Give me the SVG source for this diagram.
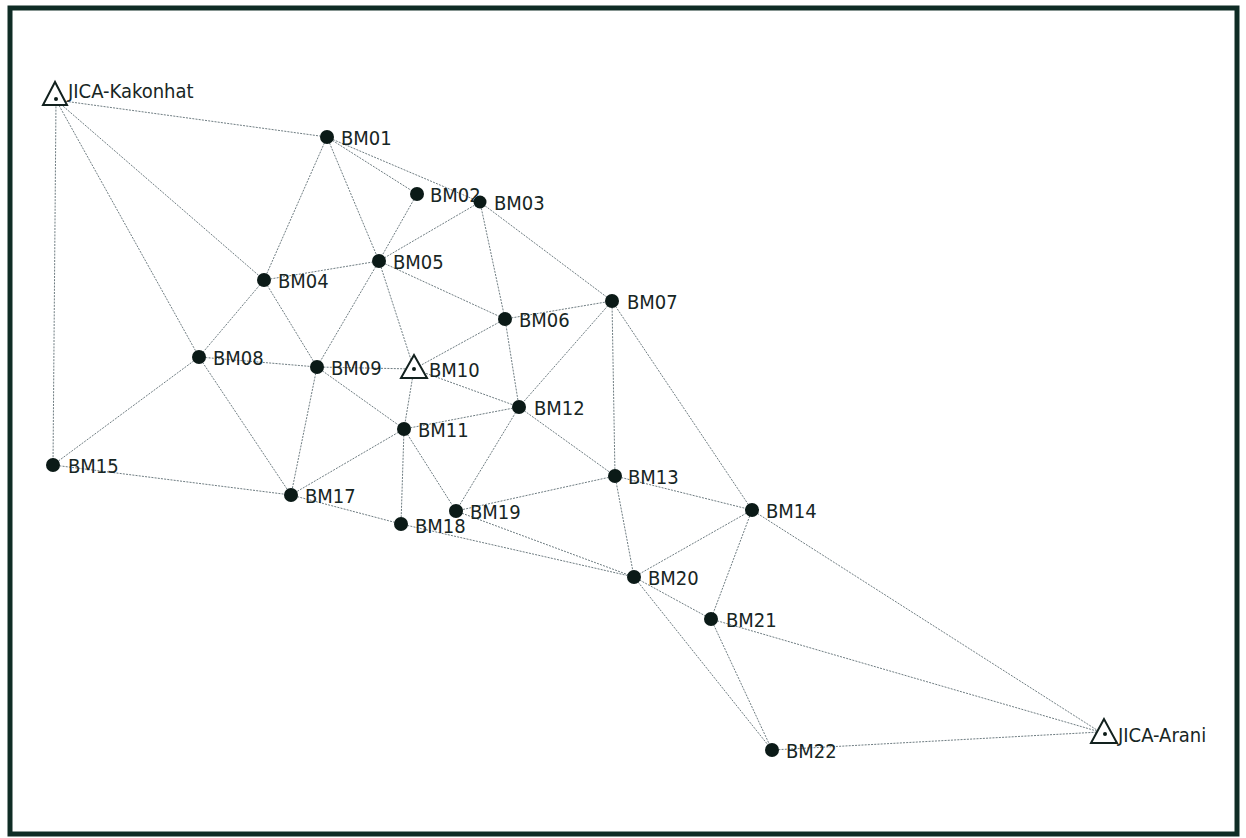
<svg xmlns="http://www.w3.org/2000/svg" width="1246" height="838" viewBox="0 0 1246 838">
  <style>
    .edge { stroke: #6f7d82; stroke-width: 1; stroke-dasharray: 2 1.2; fill: none; }
    .pt { fill: #0b1a17; }
    .ctl { fill: #ffffff; stroke: #12211e; stroke-width: 2; stroke-linejoin: miter; }
    .lbl { font-family: "DejaVu Sans Condensed", "DejaVu Sans", "Liberation Sans", sans-serif; font-stretch: condensed; font-size: 20px; fill: #172624; }
  </style>
  <rect x="0" y="0" width="1246" height="838" fill="#ffffff"/>
  <rect x="10" y="8" width="1227" height="826" fill="none" stroke="#0f2c25" stroke-width="5"/>

  <!-- survey observation lines -->
  <g id="connectors">
    <line class="edge" x1="56" y1="100" x2="327" y2="137"/>
    <line class="edge" x1="56" y1="100" x2="53" y2="465"/>
    <line class="edge" x1="56" y1="100" x2="199" y2="357"/>
    <line class="edge" x1="56" y1="100" x2="264" y2="280"/>
    <line class="edge" x1="327" y1="137" x2="417" y2="194"/>
    <line class="edge" x1="327" y1="137" x2="480" y2="202"/>
    <line class="edge" x1="327" y1="137" x2="264" y2="280"/>
    <line class="edge" x1="327" y1="137" x2="379" y2="261"/>
    <line class="edge" x1="417" y1="194" x2="379" y2="261"/>
    <line class="edge" x1="480" y1="202" x2="379" y2="261"/>
    <line class="edge" x1="480" y1="202" x2="505" y2="319"/>
    <line class="edge" x1="480" y1="202" x2="612" y2="301"/>
    <line class="edge" x1="264" y1="280" x2="379" y2="261"/>
    <line class="edge" x1="264" y1="280" x2="199" y2="357"/>
    <line class="edge" x1="264" y1="280" x2="317" y2="367"/>
    <line class="edge" x1="379" y1="261" x2="505" y2="319"/>
    <line class="edge" x1="379" y1="261" x2="317" y2="367"/>
    <line class="edge" x1="379" y1="261" x2="414" y2="369"/>
    <line class="edge" x1="505" y1="319" x2="612" y2="301"/>
    <line class="edge" x1="505" y1="319" x2="414" y2="369"/>
    <line class="edge" x1="505" y1="319" x2="519" y2="407"/>
    <line class="edge" x1="612" y1="301" x2="519" y2="407"/>
    <line class="edge" x1="612" y1="301" x2="615" y2="476"/>
    <line class="edge" x1="612" y1="301" x2="752" y2="510"/>
    <line class="edge" x1="199" y1="357" x2="317" y2="367"/>
    <line class="edge" x1="199" y1="357" x2="53" y2="465"/>
    <line class="edge" x1="199" y1="357" x2="291" y2="495"/>
    <line class="edge" x1="317" y1="367" x2="414" y2="369"/>
    <line class="edge" x1="317" y1="367" x2="404" y2="429"/>
    <line class="edge" x1="317" y1="367" x2="291" y2="495"/>
    <line class="edge" x1="414" y1="369" x2="404" y2="429"/>
    <line class="edge" x1="414" y1="369" x2="519" y2="407"/>
    <line class="edge" x1="404" y1="429" x2="519" y2="407"/>
    <line class="edge" x1="404" y1="429" x2="291" y2="495"/>
    <line class="edge" x1="404" y1="429" x2="401" y2="524"/>
    <line class="edge" x1="404" y1="429" x2="456" y2="511"/>
    <line class="edge" x1="519" y1="407" x2="615" y2="476"/>
    <line class="edge" x1="519" y1="407" x2="456" y2="511"/>
    <line class="edge" x1="615" y1="476" x2="752" y2="510"/>
    <line class="edge" x1="615" y1="476" x2="456" y2="511"/>
    <line class="edge" x1="615" y1="476" x2="634" y2="577"/>
    <line class="edge" x1="752" y1="510" x2="634" y2="577"/>
    <line class="edge" x1="752" y1="510" x2="711" y2="619"/>
    <line class="edge" x1="752" y1="510" x2="1100" y2="732"/>
    <line class="edge" x1="53" y1="465" x2="291" y2="495"/>
    <line class="edge" x1="291" y1="495" x2="401" y2="524"/>
    <line class="edge" x1="401" y1="524" x2="634" y2="577"/>
    <line class="edge" x1="456" y1="511" x2="634" y2="577"/>
    <line class="edge" x1="634" y1="577" x2="711" y2="619"/>
    <line class="edge" x1="634" y1="577" x2="772" y2="750"/>
    <line class="edge" x1="711" y1="619" x2="772" y2="750"/>
    <line class="edge" x1="711" y1="619" x2="1100" y2="732"/>
    <line class="edge" x1="772" y1="750" x2="1100" y2="732"/>
  </g>

  <!-- control stations (triangles) -->
  <g id="JICA-Kakonhat">
    <polygon class="ctl" points="55,82 43,105 67,105"/>
    <circle class="pt" cx="56" cy="99" r="2"/>
    <text class="lbl" x="68" y="97.5">JICA-Kakonhat</text>
  </g>
  <g id="BM10">
    <polygon class="ctl" points="414,355 401,378 427,378"/>
    <circle class="pt" cx="414" cy="369" r="2"/>
    <text class="lbl" x="429" y="377">BM10</text>
  </g>
  <g id="JICA-Arani">
    <polygon class="ctl" points="1104,719 1091,743 1117,743"/>
    <circle class="pt" cx="1105" cy="734" r="2"/>
    <text class="lbl" x="1118" y="742">JICA-Arani</text>
  </g>

  <!-- benchmarks -->
  <g id="BM01"><circle class="pt" cx="327" cy="137" r="7"/><text class="lbl" x="341" y="144.5">BM01</text></g>
  <g id="BM02"><circle class="pt" cx="417" cy="194" r="7"/><text class="lbl" x="430" y="201.5">BM02</text></g>
  <g id="BM03"><circle class="pt" cx="480" cy="202" r="6.5"/><text class="lbl" x="494" y="209.5">BM03</text></g>
  <g id="BM04"><circle class="pt" cx="264" cy="280" r="7"/><text class="lbl" x="278" y="287.5">BM04</text></g>
  <g id="BM05"><circle class="pt" cx="379" cy="261" r="7"/><text class="lbl" x="393" y="268.5">BM05</text></g>
  <g id="BM06"><circle class="pt" cx="505" cy="319" r="7"/><text class="lbl" x="519" y="326.5">BM06</text></g>
  <g id="BM07"><circle class="pt" cx="612" cy="301" r="7"/><text class="lbl" x="627" y="308.5">BM07</text></g>
  <g id="BM08"><circle class="pt" cx="199" cy="357" r="7"/><text class="lbl" x="213" y="364.5">BM08</text></g>
  <g id="BM09"><circle class="pt" cx="317" cy="367" r="7"/><text class="lbl" x="331" y="374.5">BM09</text></g>
  <g id="BM11"><circle class="pt" cx="404" cy="429" r="7"/><text class="lbl" x="418" y="436.5">BM11</text></g>
  <g id="BM12"><circle class="pt" cx="519" cy="407" r="7"/><text class="lbl" x="534" y="414.5">BM12</text></g>
  <g id="BM13"><circle class="pt" cx="615" cy="476" r="7"/><text class="lbl" x="628" y="483.5">BM13</text></g>
  <g id="BM14"><circle class="pt" cx="752" cy="510" r="7"/><text class="lbl" x="766" y="517.5">BM14</text></g>
  <g id="BM15"><circle class="pt" cx="53" cy="465" r="7"/><text class="lbl" x="68" y="472.5">BM15</text></g>
  <g id="BM17"><circle class="pt" cx="291" cy="495" r="7"/><text class="lbl" x="305" y="502.5">BM17</text></g>
  <g id="BM18"><circle class="pt" cx="401" cy="524" r="7"/><text class="lbl" x="415" y="532.5">BM18</text></g>
  <g id="BM19"><circle class="pt" cx="456" cy="511" r="7"/><text class="lbl" x="470" y="518.5">BM19</text></g>
  <g id="BM20"><circle class="pt" cx="634" cy="577" r="7"/><text class="lbl" x="648" y="584.5">BM20</text></g>
  <g id="BM21"><circle class="pt" cx="711" cy="619" r="7"/><text class="lbl" x="726" y="626.5">BM21</text></g>
  <g id="BM22"><circle class="pt" cx="772" cy="750" r="7"/><text class="lbl" x="786" y="757.5">BM22</text></g>
</svg>
